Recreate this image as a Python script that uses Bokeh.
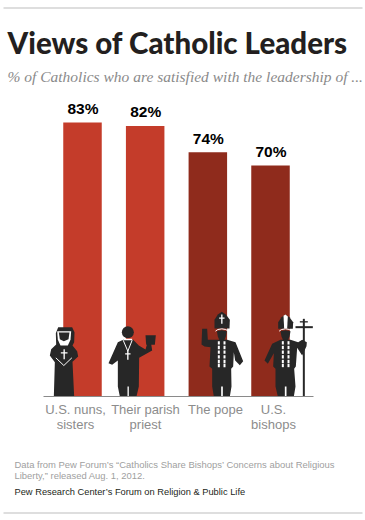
from bokeh.plotting import figure
from bokeh.embed import file_html
from bokeh.resources import INLINE
from bokeh.models import Range1d, LinearAxis, FixedTicker, ColumnDataSource
from bokeh.core.properties import value as val

categories = ["U.S. nuns,\nsisters", "Their parish\npriest", "The pope", "U.S.\nbishops"]
values = [83, 82, 74, 70]
labels = ["83%", "82%", "74%", "70%"]
colors = ["#c43c2a", "#c43c2a", "#8f2b1c", "#8f2b1c"]
title = "Views of Catholic Leaders"
subtitle = "% of Catholics who are satisfied with the leadership of ..."
note1 = "Data from Pew Forum\u2019s \u201cCatholics Share Bishops\u2019 Concerns about Religious"
note2 = "Liberty,\u201d released Aug. 1, 2012."
credit = "Pew Research Center\u2019s Forum on Religion & Public Life"

W, H = 365, 520
L, R, B = 43, 313, 396
PX_PER_CAT, X0 = 62.67, 82
PX_PER_PCT = 3.3
xr = Range1d(-X0 / PX_PER_CAT, (W - X0) / PX_PER_CAT)
yr = Range1d(-(H - B) / PX_PER_PCT, B / PX_PER_PCT)

p = figure(width=W, height=H, x_range=xr, y_range=yr, output_backend="svg", toolbar_location=None,
           min_border=0, x_axis_type=None, y_axis_type=None, outline_line_color=None,
           border_fill_color="white", background_fill_color="white",
           styles={"position": "absolute", "left": "0px", "top": "0px"})
p.grid.visible = False
# pixel-based helper ranges for pictograms, rules and captions
p.extra_x_ranges["px"] = Range1d(0, W)
p.extra_y_ranges["px"] = Range1d(H, 0)
PX = dict(x_range_name="px", y_range_name="px")

idx = list(range(len(values)))
src = ColumnDataSource(dict(x=idx, top=values, color=colors, label=labels))
p.vbar(x="x", top="top", bottom=0, width=38.5 / PX_PER_CAT, color="color", line_color=None, source=src)
p.text(x="x", y="top", text="label", source=src, text_align="center", text_baseline="alphabetic", y_offset=-14,
       x_offset=0.5, text_font=val("Liberation Sans"), text_font_style="bold", text_font_size="15.5px", text_color="black")

ax = LinearAxis(ticker=FixedTicker(ticks=[]), fixed_location=0,
                bounds=((L - X0) / PX_PER_CAT, (R - X0) / PX_PER_CAT))
ax.axis_line_color = "#8a8a8a"
ax.axis_line_width = 1
ax.major_tick_line_color = None
ax.minor_tick_line_color = None
p.add_layout(ax, "below")

label_x = [75, 145, 215, 273]
p.text(x=label_x, y=[401] * 4, text=categories, text_align="center", text_baseline="top", text_line_height=1.0,
       text_font=val("Liberation Sans"), text_font_size="13px", text_color="#8c8c8c", **PX)

DARK, WHITE = "#272727", "white"
def poly(ox, oy, pts, color=DARK):
    p.patch([ox + a / 3 for a, b in pts], [oy + b / 3 for a, b in pts], color=color, line_color=None, **PX)
def rect(ox, oy, x0, y0, x1, y1, color=DARK):
    poly(ox, oy, [(x0, y0), (x1, y0), (x1, y1), (x0, y1)], color)
def line(ox, oy, pts, color=WHITE, w=1):
    p.line([ox + a / 3 for a, b in pts], [oy + b / 3 for a, b in pts], line_color=color, line_width=w, **PX)
def circ(ox, oy, cx, cy, r, color=DARK):
    p.circle([ox + cx / 3], [oy + cy / 3], radius=r / 3, color=color, line_color=None, **PX)

# nun
o = (30, 300)
poly(*o, [(83, 80), (125, 80), (132, 95), (131, 125), (126, 135), (140, 152), (143, 168), (126, 184), (131, 287),
          (70, 287), (73, 185), (58, 165), (62, 146), (77, 132), (76, 98)])
poly(*o, [(80, 92), (122, 92), (120, 118), (112, 135), (90, 135), (82, 118)], WHITE)
poly(*o, [(85, 96), (117, 96), (114, 116), (100, 122), (88, 116)])
rect(*o, 99, 146, 103, 176, WHITE)
rect(*o, 91, 155, 111, 159, WHITE)
line(*o, [(76, 172), (100, 195), (124, 172)])

# priest
circ(*o, 292, 95, 18)
poly(*o, [(278, 118), (308, 118), (325, 135), (345, 147), (350, 130), (362, 130), (365, 150), (326, 172), (325, 258),
          (318, 288), (268, 288), (262, 258), (262, 180), (245, 193), (234, 188), (262, 125)])
poly(*o, [(345, 104), (376, 104), (373, 133), (347, 133)])
rect(*o, 291, 258, 295, 288, WHITE)
rect(*o, 280, 115, 305, 119, WHITE)
line(*o, [(278, 119), (292, 152), (305, 119)])
rect(*o, 290, 150, 294, 178, WHITE)
rect(*o, 284, 158, 300, 162, WHITE)

# pope
o = (180, 300)
poly(*o, [(102, 58), (112, 42), (124, 34), (136, 42), (148, 58), (147, 84), (102, 84)])
rect(*o, 122, 42, 126, 70, WHITE)
rect(*o, 116, 51, 132, 55, WHITE)
line(*o, [(105, 92), (112, 87), (124, 85), (136, 87), (143, 92)])
poly(*o, [(109, 92), (124, 89), (139, 92), (136, 108), (131, 120), (117, 120), (112, 108)])
poly(*o, [(108, 118), (140, 118), (165, 125), (188, 182), (178, 194), (164, 180), (160, 155), (158, 198), (152, 205),
          (153, 258), (148, 288), (100, 288), (95, 258), (95, 205), (87, 198), (90, 140), (72, 138), (63, 132),
          (65, 85), (80, 85), (82, 118)])
rect(*o, 122, 258, 127, 288, WHITE)
for xs in (112, 129):
    for ys in (122, 136, 150, 164, 178, 190):
        rect(*o, xs, ys, xs + 6, ys + 10, WHITE)

# bishop
poly(*o, [(293, 65), (303, 50), (315, 42), (327, 50), (338, 65), (337, 85), (293, 85)])
poly(*o, [(309, 46), (315, 42), (322, 48), (320, 84), (311, 84)], WHITE)
line(*o, [(296, 92), (303, 87), (315, 85), (327, 87), (334, 92)])
poly(*o, [(300, 92), (315, 89), (330, 92), (327, 108), (322, 120), (308, 120), (303, 108)])
poly(*o, [(300, 118), (330, 118), (353, 125), (365, 118), (379, 125), (378, 137), (365, 165), (350, 142), (346, 198),
          (341, 205), (345, 258), (340, 288), (292, 288), (285, 258), (285, 205), (278, 198), (280, 158), (262, 190),
          (252, 180), (275, 130)])
rect(*o, 313, 258, 318, 288, WHITE)
for xs in (304, 321):
    for ys in (122, 136, 150, 164, 178, 190):
        rect(*o, xs, ys, xs + 6, ys + 10, WHITE)
rect(*o, 367, 55, 373, 288)
rect(*o, 345, 77, 397, 83)
rect(*o, 358, 62, 382, 66)

# captions and rules
def label(x, y, text, font, size, color, style="normal"):
    p.text(x=[x], y=[y], text=[text], text_font=val(font), text_font_size=size, text_color=color,
           text_font_style=style, text_baseline="alphabetic", **PX)
def rule(y):
    p.segment(x0=[3], y0=[y], x1=[362], y1=[y], line_color="#bdbdbd", line_width=1, **PX)

rule(7.5)
rule(512.5)
label(7, 42, title, "'Lato Black', Lato", "29.5px", "#231f20", "bold")
label(7, 75.5, subtitle, "Liberation Serif", "15.5px", "#8a8a8a", "italic")
label(14, 464, note1, "Liberation Sans", "9.45px", "#a0a0a0")
label(14, 475, note2, "Liberation Sans", "9.45px", "#a0a0a0")
label(14, 491, credit, "Liberation Sans", "9.3px", "#231f20")

open("out.html", "w").write(file_html(p, INLINE))
